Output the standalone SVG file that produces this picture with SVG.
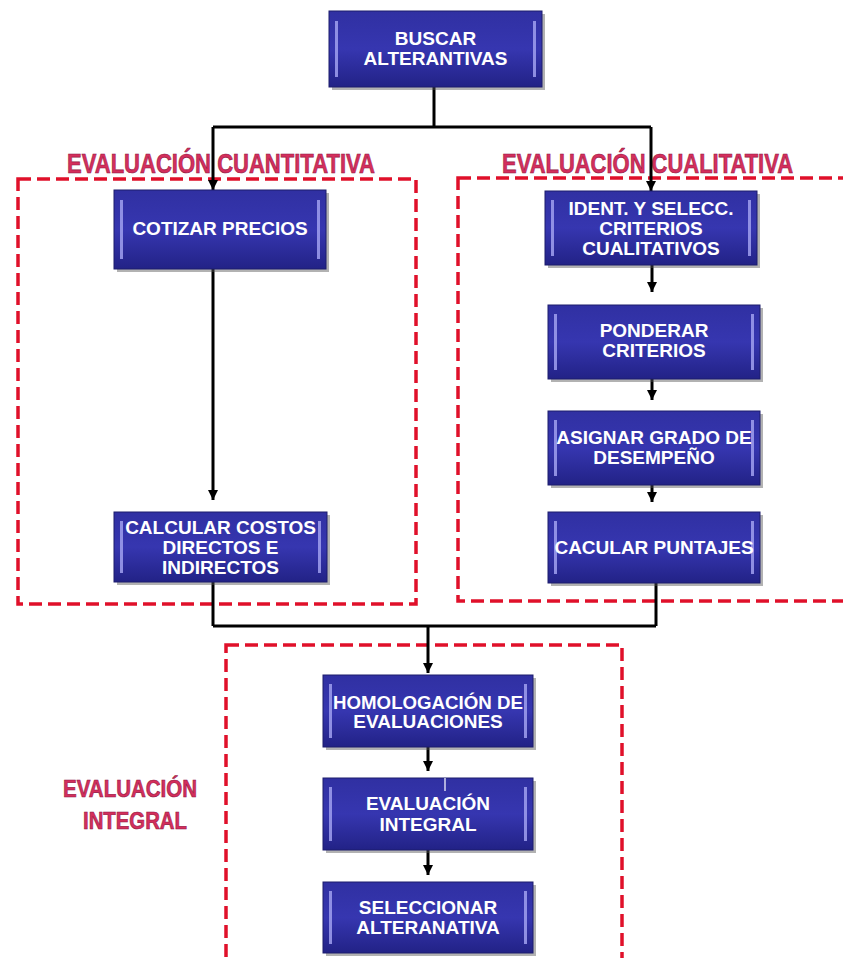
<svg xmlns="http://www.w3.org/2000/svg" width="843" height="958" viewBox="0 0 843 958">
<defs>
<linearGradient id="bg" x1="0" y1="0" x2="0" y2="1">
<stop offset="0" stop-color="#3030a2"/>
<stop offset="0.5" stop-color="#3636b0"/>
<stop offset="1" stop-color="#222286"/>
</linearGradient>
<marker id="arr" markerUnits="userSpaceOnUse" markerWidth="10" markerHeight="10" refX="10" refY="5" orient="auto">
<path d="M0,0 L10,5 L0,10 z" fill="#000"/>
</marker>
</defs>
<style>
.box{fill:url(#bg);stroke:#1c1c6c;stroke-width:1}
.sh{fill:#555;opacity:0.45}
.bar{fill:#a0a0ee;opacity:0.85}
.t{font-family:"Liberation Sans",Arial,sans-serif;font-weight:bold;font-size:19px;fill:#fff;text-anchor:middle}
.hd{font-family:"Liberation Sans",Arial,sans-serif;font-weight:bold;fill:#d42f5c;stroke:#8e1440;stroke-width:0.6}
.dash{fill:none;stroke:#e0102a;stroke-width:3.5;stroke-dasharray:13 6}
.c{fill:none;stroke:#000;stroke-width:3}
</style>
<rect width="843" height="958" fill="#fff"/>

<g id="regions">
<rect class="dash" x="18" y="179" width="398" height="425"/>
<rect class="dash" x="458" y="178" width="400" height="423"/>
<rect class="dash" x="226" y="645" width="396" height="330"/>
<text class="hd" x="67" y="173" font-size="28" textLength="308" lengthAdjust="spacingAndGlyphs">EVALUACIÓN CUANTITATIVA</text>
<text class="hd" x="502" y="173" font-size="28" textLength="291" lengthAdjust="spacingAndGlyphs">EVALUACIÓN CUALITATIVA</text>
<text class="hd" x="63" y="797" font-size="24" textLength="134" lengthAdjust="spacingAndGlyphs">EVALUACIÓN</text>
<text class="hd" x="83" y="829" font-size="24" textLength="104" lengthAdjust="spacingAndGlyphs">INTEGRAL</text>
</g>

<g id="connectors">
<path class="c" d="M434,87 V127"/>
<path class="c" d="M213,127 H651"/>
<path class="c" d="M213,127 V190" marker-end="url(#arr)"/>
<path class="c" d="M651,127 V191" marker-end="url(#arr)"/>
<path class="c" d="M213,269 V500" marker-end="url(#arr)"/>
<path class="c" d="M652,265 V292" marker-end="url(#arr)"/>
<path class="c" d="M652,379 V400" marker-end="url(#arr)"/>
<path class="c" d="M652,485 V502" marker-end="url(#arr)"/>
<path class="c" d="M213,582 V626"/>
<path class="c" d="M656,583 V626"/>
<path class="c" d="M213,626 H656"/>
<path class="c" d="M428,626 V673" marker-end="url(#arr)"/>
<path class="c" d="M428,747 V771" marker-end="url(#arr)"/>
<path class="c" d="M428,850 V875" marker-end="url(#arr)"/>
</g>

<g id="n-buscar">
<rect class="sh" x="332" y="14" width="213" height="76"/>
<rect class="box" x="329" y="11" width="213" height="76"/>
<rect class="bar" x="335" y="21" width="3" height="56"/><rect class="bar" x="533" y="21" width="3" height="56"/>
<text class="t" x="435.5" y="45">BUSCAR</text>
<text class="t" x="435.5" y="65">ALTERANTIVAS</text>
</g>

<g id="n-cotizar">
<rect class="sh" x="117" y="193" width="212" height="79"/>
<rect class="box" x="114" y="190" width="212" height="79"/>
<rect class="bar" x="120" y="200" width="3" height="59"/><rect class="bar" x="317" y="200" width="3" height="59"/>
<text class="t" x="220" y="235">COTIZAR PRECIOS</text>
</g>

<g id="n-calcular">
<rect class="sh" x="117" y="515" width="213" height="70"/>
<rect class="box" x="114" y="512" width="213" height="70"/>
<rect class="bar" x="120" y="521" width="3" height="52"/><rect class="bar" x="318" y="521" width="3" height="52"/>
<text class="t" x="220.5" y="534">CALCULAR COSTOS</text>
<text class="t" x="220.5" y="554">DIRECTOS E</text>
<text class="t" x="220.5" y="574">INDIRECTOS</text>
</g>

<g id="n-ident">
<rect class="sh" x="548" y="194" width="212" height="74"/>
<rect class="box" x="545" y="191" width="212" height="74"/>
<rect class="bar" x="551" y="200" width="3" height="56"/><rect class="bar" x="748" y="200" width="3" height="56"/>
<text class="t" x="651" y="215">IDENT. Y SELECC.</text>
<text class="t" x="651" y="235">CRITERIOS</text>
<text class="t" x="651" y="255">CUALITATIVOS</text>
</g>

<g id="n-ponderar">
<rect class="sh" x="551" y="308" width="212" height="74"/>
<rect class="box" x="548" y="305" width="212" height="74"/>
<rect class="bar" x="554" y="314" width="3" height="56"/><rect class="bar" x="751" y="314" width="3" height="56"/>
<text class="t" x="654" y="337">PONDERAR</text>
<text class="t" x="654" y="357">CRITERIOS</text>
</g>

<g id="n-asignar">
<rect class="sh" x="551" y="414" width="212" height="74"/>
<rect class="box" x="548" y="411" width="212" height="74"/>
<rect class="bar" x="554" y="420" width="3" height="56"/><rect class="bar" x="751" y="420" width="3" height="56"/>
<text class="t" x="654" y="444">ASIGNAR GRADO DE</text>
<text class="t" x="654" y="464">DESEMPEÑO</text>
</g>

<g id="n-cacular">
<rect class="sh" x="551" y="515" width="212" height="71"/>
<rect class="box" x="548" y="512" width="212" height="71"/>
<rect class="bar" x="554" y="521" width="3" height="53"/><rect class="bar" x="751" y="521" width="3" height="53"/>
<text class="t" x="654" y="554">CACULAR PUNTAJES</text>
</g>

<g id="n-homologacion">
<rect class="sh" x="326" y="678" width="210" height="72"/>
<rect class="box" x="323" y="675" width="210" height="72"/>
<rect class="bar" x="329" y="684" width="3" height="54"/><rect class="bar" x="524" y="684" width="3" height="54"/>
<text class="t" x="428" y="709" textLength="190" lengthAdjust="spacingAndGlyphs">HOMOLOGACIÓN DE</text>
<text class="t" x="428" y="728">EVALUACIONES</text>
</g>

<g id="n-evaluacion-integral">
<rect class="sh" x="326" y="781" width="210" height="72"/>
<rect class="box" x="323" y="778" width="210" height="72"/>
<rect class="bar" x="329" y="787" width="3" height="54"/><rect class="bar" x="524" y="787" width="3" height="54"/>
<path d="M445,778 V791" stroke="#d8d8f0" stroke-width="1.5"/>
<text class="t" x="428" y="810">EVALUACIÓN</text>
<text class="t" x="428" y="831">INTEGRAL</text>
</g>

<g id="n-seleccionar">
<rect class="sh" x="326" y="885" width="210" height="71"/>
<rect class="box" x="323" y="882" width="210" height="71"/>
<rect class="bar" x="329" y="891" width="3" height="53"/><rect class="bar" x="524" y="891" width="3" height="53"/>
<text class="t" x="428" y="914">SELECCIONAR</text>
<text class="t" x="428" y="934">ALTERANATIVA</text>
</g>
</svg>
